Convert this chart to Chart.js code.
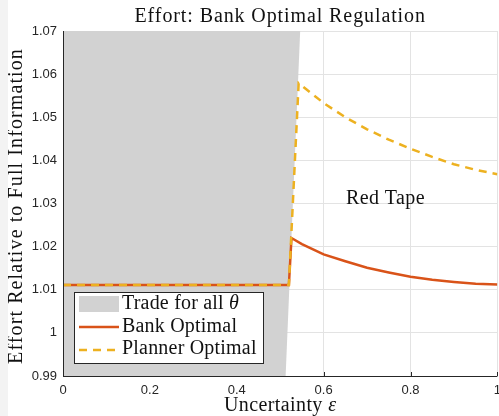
<!DOCTYPE html>
<html>
<head>
<meta charset="utf-8">
<script src="https://cdn.jsdelivr.net/npm/chart.js@4.4.1/dist/chart.umd.min.js"></script>
<style>
html, body { margin: 0; padding: 0; background: #f3f3f3; overflow: hidden; }
#wrap { position: absolute; left: 8px; top: 0; width: 500px; height: 416px; background: #fff; }
</style>
</head>
<body>
<div id="wrap"><canvas id="myChart" width="500" height="416"></canvas></div>
<script>
// shaded region "Trade for all theta" (outline, in data units)
const tradeX = [0, 0, 0.546, 0.5125];
const tradeY = [0.99, 1.07, 1.07, 0.99];

// bank optimal effort
const bankX = [0, 0.52, 0.526, 0.55, 0.6, 0.65, 0.7, 0.75, 0.8, 0.85, 0.9, 0.95, 1];
const bankY = [1.0111, 1.0111, 1.0220, 1.0206, 1.0182, 1.0166, 1.0151, 1.0140, 1.0130, 1.0123, 1.0118, 1.0114, 1.0112];

// planner optimal effort
const plannerX = [0, 0.52, 0.5425, 0.56, 0.6, 0.65, 0.7, 0.75, 0.8, 0.85, 0.9, 0.95, 1];
const plannerY = [1.0111, 1.0111, 1.0579, 1.0565, 1.0533, 1.0500, 1.0472, 1.0448, 1.0427, 1.0408, 1.0391, 1.0378, 1.0368];

const xTicks = [0, 0.2, 0.4, 0.6, 0.8, 1];
const yTicks = [0.99, 1, 1.01, 1.02, 1.03, 1.04, 1.05, 1.06, 1.07];

const labels = ["Trade for all ", "Bank Optimal", "Planner Optimal"];
const noteText = "Red Tape";
const noteX = 0.7425, noteY = 1.0299;

const gray = '#d2d2d2', red = '#d95319', yellow = '#edb120', ink = '#262626';
const serif = '"Liberation Serif", "Times New Roman", serif';
const sans = '"Liberation Sans", Arial, Helvetica, sans-serif';

function toPoints(xs, ys) {
    return xs.map((x, i) => ({ x: x, y: ys[i] }));
}

const overlay = {
    id: 'overlay',
    beforeDatasetsDraw(chart) {
        // inward tick marks, they end up under the shaded patch
        const { ctx, chartArea: a, scales: { x, y } } = chart;
        ctx.save();
        ctx.strokeStyle = ink;
        ctx.lineWidth = 1;
        ctx.beginPath();
        xTicks.forEach(v => {
            let px = Math.round(x.getPixelForValue(v)) + 0.5;
            ctx.moveTo(px, a.bottom); ctx.lineTo(px, a.bottom - 4);
        });
        yTicks.forEach(v => {
            let py = Math.round(y.getPixelForValue(v)) + 0.5;
            ctx.moveTo(a.left, py); ctx.lineTo(a.left + 4, py);
        });
        ctx.stroke();
        ctx.restore();
    },
    afterDatasetsDraw(chart) {
        const { ctx, chartArea: a, scales: { x, y } } = chart;
        ctx.save();
        // axis lines on top
        ctx.strokeStyle = ink;
        ctx.lineWidth = 1;
        ctx.beginPath();
        ctx.moveTo(Math.round(a.left) + 0.5, a.top);
        ctx.lineTo(Math.round(a.left) + 0.5, Math.round(a.bottom) + 0.5);
        ctx.lineTo(a.right, Math.round(a.bottom) + 0.5);
        ctx.stroke();

        ctx.fillStyle = '#111';
        ctx.font = '20px ' + serif;

        // title
        ctx.letterSpacing = '0.9px';
        ctx.textAlign = 'center';
        ctx.textBaseline = 'alphabetic';
        let cx = (a.left + a.right) / 2;
        ctx.fillText('Effort: Bank Optimal Regulation', cx, 22);

        // x label with italic epsilon
        ctx.letterSpacing = '0.4px';
        let t1 = 'Uncertainty ';
        let w1 = ctx.measureText(t1).width;
        ctx.font = 'italic 20px ' + serif;
        let w2 = ctx.measureText('ε').width;
        ctx.font = '20px ' + serif;
        ctx.textAlign = 'left';
        let sx = cx - (w1 + w2) / 2;
        ctx.fillText(t1, sx, 411);
        ctx.font = 'italic 20px ' + serif;
        ctx.fillText('ε', sx + w1, 411);

        // y label
        ctx.font = '20px ' + serif;
        ctx.letterSpacing = '1.1px';
        ctx.save();
        ctx.translate(14, 206);
        ctx.rotate(-Math.PI / 2);
        ctx.textAlign = 'center';
        ctx.fillText('Effort Relative to Full Information', 0, 0);
        ctx.restore();

        // annotation
        ctx.letterSpacing = '0.4px';
        ctx.textAlign = 'center';
        ctx.fillText(noteText, x.getPixelForValue(noteX), y.getPixelForValue(noteY));

        // legend box
        let bx = a.left + 11, by = a.bottom - 84, bw = 189, bh = 71;
        ctx.fillStyle = '#fff';
        ctx.fillRect(bx, by, bw, bh);
        ctx.strokeStyle = ink;
        ctx.lineWidth = 1;
        ctx.strokeRect(Math.round(bx) + 0.5, Math.round(by) + 0.5, bw, bh);

        let lx = bx + 5, lw = 40, tx = bx + 48;
        ctx.fillStyle = gray;
        ctx.fillRect(lx, by + 4, lw, 16);

        ctx.lineCap = 'butt';
        ctx.lineWidth = 2.5;
        ctx.strokeStyle = red;
        ctx.beginPath();
        ctx.moveTo(lx, by + 35); ctx.lineTo(lx + lw, by + 35);
        ctx.stroke();

        ctx.strokeStyle = yellow;
        ctx.setLineDash([8, 6]);
        ctx.beginPath();
        ctx.moveTo(lx, by + 58); ctx.lineTo(lx + lw, by + 58);
        ctx.stroke();
        ctx.setLineDash([]);

        ctx.fillStyle = '#111';
        ctx.textAlign = 'left';
        ctx.font = '20px ' + serif;
        ctx.letterSpacing = '0.2px';
        ctx.fillText(labels[0], tx, by + 17);
        let wl = ctx.measureText(labels[0]).width;
        ctx.font = 'italic 20px ' + serif;
        ctx.fillText('θ', tx + wl, by + 17);
        ctx.font = '20px ' + serif;
        ctx.fillText(labels[1], tx, by + 40);
        ctx.fillText(labels[2], tx, by + 62);
        ctx.restore();
    }
};

const ctx = document.getElementById('myChart').getContext('2d');
const myChart = new Chart(ctx, {
    type: 'scatter',
    data: {
        datasets: [{
            label: labels[0],
            data: toPoints(tradeX, tradeY),
            showLine: true,
            fill: 'shape',
            backgroundColor: gray,
            borderWidth: 0,
            pointRadius: 0,
            order: 3
        }, {
            label: labels[1],
            data: toPoints(bankX, bankY),
            showLine: true,
            borderColor: red,
            borderWidth: 2.5,
            pointRadius: 0,
            order: 2
        }, {
            label: labels[2],
            data: toPoints(plannerX, plannerY),
            showLine: true,
            borderColor: yellow,
            borderWidth: 2.5,
            borderDash: [8, 6],
            pointRadius: 0,
            order: 1
        }]
    },
    options: {
        responsive: false,
        animation: false,
        layout: { padding: { top: 31, right: 10, left: 0, bottom: 0 } },
        plugins: { legend: { display: false }, tooltip: { enabled: false } },
        scales: {
            x: {
                type: 'linear', min: 0, max: 1,
                afterFit: s => { s.height = 40; },
                afterBuildTicks: s => { s.ticks = xTicks.map(v => ({ value: v })); },
                grid: { color: '#e3e3e3', drawTicks: false },
                border: { display: false },
                ticks: {
                    padding: 7, color: ink, maxRotation: 0,
                    font: { family: sans, size: 13 },
                    callback: v => String(Number(v.toFixed(1)))
                }
            },
            y: {
                type: 'linear', min: 0.99, max: 1.07,
                afterFit: s => { s.width = 55; },
                afterBuildTicks: s => { s.ticks = yTicks.map(v => ({ value: v })); },
                grid: { color: '#e3e3e3', drawTicks: false },
                border: { display: false },
                ticks: {
                    padding: 6, color: ink,
                    font: { family: sans, size: 13 },
                    callback: v => String(Number(v.toFixed(2)))
                }
            }
        }
    },
    plugins: [overlay]
});
</script>
</body>
</html>
